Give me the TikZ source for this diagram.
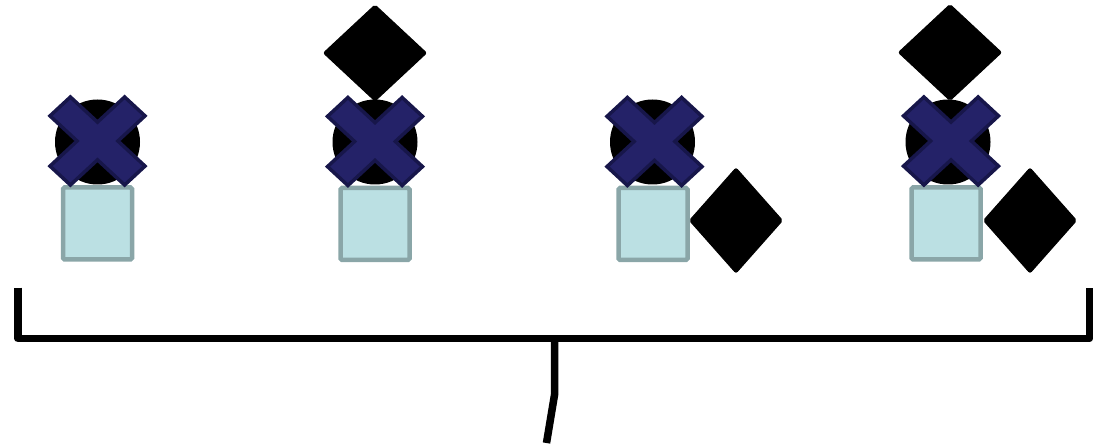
\documentclass[tikz,border=0pt]{standalone}
\usetikzlibrary{shapes.geometric}
\definecolor{xfill}{HTML}{242268}
\definecolor{xline}{HTML}{17164A}
\definecolor{sqfill}{HTML}{BBE0E3}
\definecolor{sqline}{HTML}{8AA6A8}
\begin{document}
\begin{tikzpicture}[x=1pt,y=-1pt,
  sq/.style={draw=sqline,fill=sqfill,line width=4.5pt,rounded corners=1.5pt,
    minimum width=69pt,minimum height=72pt,inner sep=0pt,outer sep=0pt},
  disc/.style={circle,fill=black,minimum size=85pt,inner sep=0pt,outer sep=0pt},
  topdia/.style={diamond,fill=black,draw=black,line width=1pt,rounded corners=2pt,
    minimum width=103pt,minimum height=96pt,inner sep=0pt,outer sep=0pt},
  sidedia/.style={diamond,fill=black,draw=black,line width=1pt,rounded corners=2pt,
    minimum width=93pt,minimum height=105pt,inner sep=0pt,outer sep=0pt},
  bracket/.style={line width=7.5pt,line cap=butt,line join=round},
  cross/.pic={\draw[xline,fill=xfill,line width=3.5pt,line join=miter]
    (0,-18.9) -- (27.1,-44) -- (47.5,-25.1) -- (20.4,0) -- (47.5,25.1) -- (27.1,44)
    -- (0,18.9) -- (-27.1,44) -- (-47.5,25.1) -- (-20.4,0) -- (-47.5,-25.1)
    -- (-27.1,-44) -- cycle;}]
\useasboundingbox (0,0) rectangle (1097,446);

% group 1
\node[sq] (s1) at (97.5,223.5) {};
\node[disc] (c1) at (97.5,142) {};
\pic at (97.5,141) {cross};

% group 2
\node[topdia] (t2) at (375,53) {};
\node[sq] (s2) at (375,224) {};
\node[disc] (c2) at (375,142) {};
\pic at (375,141.5) {cross};

% group 3
\node[sq] (s3) at (653,224) {};
\node[disc] (c3) at (652.5,142) {};
\pic at (654.5,141.5) {cross};
\node[sidedia] (r3) at (736,220.5) {};

% group 4
\node[topdia] (t4) at (950,52.5) {};
\node[sq] (s4) at (946,223.5) {};
\node[disc] (c4) at (948,142) {};
\pic at (951,141) {cross};
\node[sidedia] (r4) at (1030,220.5) {};

% bracket
\coordinate (bl) at (18,287.5);
\coordinate (br) at (1089.5,287.5);
\coordinate (bm) at (554.5,338.5);
\coordinate (kink) at (554.5,395);
\coordinate (tail) at (546.5,443);
\draw[bracket] (bl) |- (bm) -| (br);
\draw[bracket,line join=miter] (bm) -- (kink) -- (tail);
\end{tikzpicture}
\end{document}
